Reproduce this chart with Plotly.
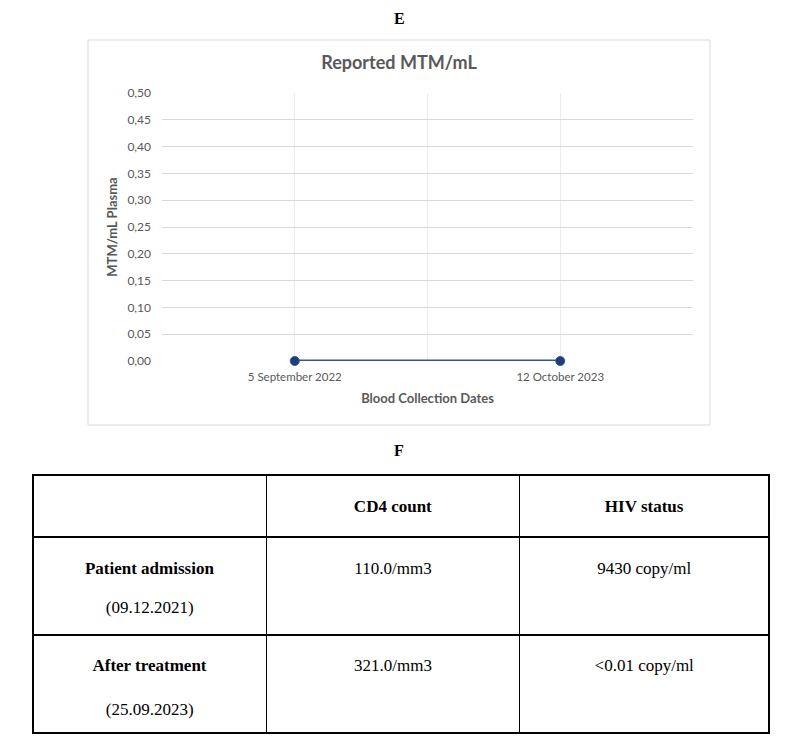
import plotly.graph_objects as go

####################################################
# panel E - reported MTM/mL over blood collection dates
dates = ["5 September 2022", "12 October 2023"]
mtm_values = [0.00, 0.00]

# panel F - table
col_headers = ["", "CD4 count", "HIV status"]
row_labels = ["Patient admission", "After treatment"]
row_dates = ["(09.12.2021)", "(25.09.2023)"]
cd4_counts = ["110.0/mm3", "321.0/mm3"]
hiv_status = ["9430 copy/ml", "&lt;0.01 copy/ml"]

# the page body adds an 8px margin round the figure
W, H = 782, 731
PAD = 8


def px_x(p):
    return (p - PAD) / W


def px_y(p):
    return 1 - (p - PAD) / H


xpos = list(range(len(dates)))
grid_x = [i * 0.5 - 0.5 for i in range(2 * len(dates) + 1)]
grid_text = ["" if g not in xpos else dates[int(g)] for g in grid_x]

fig = go.Figure()

fig.add_trace(go.Scatter(x=xpos, y=mtm_values, mode="lines+markers",
                         line=dict(color="#2F5597", width=3),
                         marker=dict(size=9, color="#1F3D7A",
                                     line=dict(color="#2F5597", width=1)),
                         cliponaxis=False, showlegend=False))

####################################################
# table: one layer for the grid, two text layers so the text sits
# where it does in the original (go.Table has no vertical align).
# empty leading lines get dropped, so pad them with a no-break space
tbl_font = dict(family="Liberation Serif", size=17, color="black")
no_line = dict(color="rgba(0,0,0,0)", width=0)
col_w = [233, 253, 249]
blank = ["", ""]
gap = "\u00a0<br>"


def table_layer(top, header, cells, line, fill, head_h=62, row_h=97):
    bottom = max(0.0, px_y(top + head_h + 2 * row_h + 3))
    return go.Table(
        domain=dict(x=[px_x(33), px_x(769)], y=[bottom, px_y(top)]),
        columnwidth=col_w,
        header=dict(values=header, height=head_h, align="center",
                    fill_color=fill, line=line, font=tbl_font),
        cells=dict(values=cells, height=row_h, align="center",
                   fill_color=fill, line=line, font=tbl_font))


fig.add_trace(table_layer(475, ["", "", ""], [blank, blank, blank],
                          dict(color="black", width=1.5), "white", row_h=98))
fig.add_trace(table_layer(
    467,
    [gap + "<b>%s</b>" % h if h else "" for h in col_headers],
    [[gap + "<b>%s</b>" % r for r in row_labels],
     [gap + c for c in cd4_counts],
     [gap + s for s in hiv_status]],
    no_line, "rgba(0,0,0,0)"))
fig.add_trace(table_layer(
    462, ["", "", ""],
    [[gap * 3 + d for d in row_dates], blank, blank],
    no_line, "rgba(0,0,0,0)"))

fig.update_layout(
    width=W, height=H,
    margin=dict(l=0, r=0, t=0, b=0),
    paper_bgcolor="white", plot_bgcolor="white",
    separators=",.",
    title=dict(text="<b>Reported MTM/mL</b>", x=0.5, xanchor="center",
               y=px_y(63), yanchor="middle",
               font=dict(family="Lato", size=18, color="#595959")),
    xaxis=dict(domain=[px_x(162), px_x(693)], range=[-0.5, len(dates) - 0.5],
               tickmode="array", tickvals=grid_x, ticktext=grid_text,
               showgrid=True, gridcolor="#ececec", gridwidth=1,
               zeroline=False, showline=False, ticks="", automargin=False,
               ticklabelstandoff=7,
               tickfont=dict(family="Lato", size=11.5, color="#595959"),
               title=dict(text="<b>Blood Collection Dates</b>", standoff=12,
                          font=dict(family="Lato", size=13, color="#595959"))),
    yaxis=dict(domain=[px_y(361), px_y(93)], range=[0, 0.5], dtick=0.05,
               tickformat=".2f", showgrid=True, gridcolor="#d9d9d9",
               gridwidth=1, zeroline=False, showline=False, ticks="",
               automargin=False, ticklabelstandoff=10,
               tickfont=dict(family="Lato", size=12, color="#595959"),
               title=dict(text="<b>MTM/mL Plasma</b>", standoff=6,
                          font=dict(family="Lato", size=13, color="#595959"))),
)

# outer border of the chart panel
fig.add_shape(type="rect", xref="paper", yref="paper",
              x0=px_x(88), x1=px_x(710), y0=px_y(425), y1=px_y(40),
              line=dict(color="#d9d9d9", width=1), layer="below")

fig.add_annotation(text="<b>E</b>", xref="paper", yref="paper",
                   x=0.5, y=1, yanchor="top", showarrow=False,
                   font=dict(family="Liberation Serif", size=16, color="black"))
fig.add_annotation(text="<b>F</b>", xref="paper", yref="paper",
                   x=0.5, y=px_y(450), yanchor="middle", showarrow=False,
                   font=dict(family="Liberation Serif", size=16, color="black"))

fig.write_html("out.html")
